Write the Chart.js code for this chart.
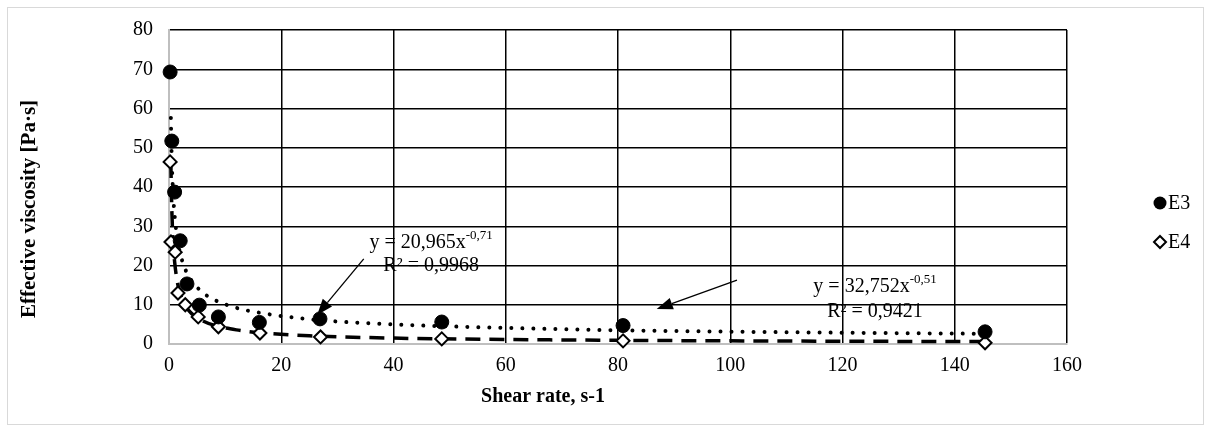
<!DOCTYPE html>
<html>
<head>
<meta charset="utf-8">
<script src="https://cdn.jsdelivr.net/npm/chart.js@4/dist/chart.umd.min.js"></script>
<style>
html, body { margin: 0; padding: 0; background: #fff; }
#wrap { width: 1211px; height: 432px; }
</style>
</head>
<body>
<div id="wrap"><canvas id="viscChart" width="1211" height="432"></canvas></div>
<script>
// measured points: shear rate (s-1) and effective viscosity (Pa·s)
var e3Shear = [0.2, 0.5, 1.0, 2.0, 3.2, 5.4, 8.8, 16.1, 26.9, 48.6, 80.9, 145.4];
var e3Visc = [69.3, 51.7, 38.7, 26.3, 15.3, 9.9, 6.9, 5.5, 6.4, 5.6, 4.7, 3.1];
var e4Shear = [0.2, 0.35, 1.1, 1.6, 2.9, 5.2, 8.8, 16.2, 27.0, 48.6, 80.9, 145.4];
var e4Visc = [46.4, 26.0, 23.4, 13.0, 10.0, 6.9, 4.4, 2.8, 1.8, 1.3, 0.8, 0.3];

// power trendlines (dotted = E3, dashed = E4)
var trendShear = [0.33, 0.5, 0.75, 1, 1.5, 2, 3, 4, 6, 8, 12, 16, 25, 40, 60, 80, 110, 145.5];
var e3TrendVisc = [57.6, 46.6, 37.9, 32.8, 26.6, 23.0, 18.7, 16.2, 13.1, 11.3, 9.2, 8.0, 6.3, 5.0, 4.1, 3.5, 3.0, 2.6];
var e4TrendVisc = [46.1, 34.3, 25.7, 21.0, 15.7, 12.8, 9.6, 7.8, 5.9, 4.8, 3.6, 2.9, 2.1, 1.5, 1.15, 0.94, 0.75, 0.61];

var xTicks = [0, 20, 40, 60, 80, 100, 120, 140, 160];
var yTicks = [0, 10, 20, 30, 40, 50, 60, 70, 80];
var seriesNames = ['E3', 'E4'];

// trendline labels and arrows (in data units)
var fitNotes = [
    { eq: 'y = 20,965x', pow: '-0,71', r2: 'R\u00b2 = 0,9968', x: 46.7, y1: 25.7, y2: 19.9,
      from: [34.7, 21.7], to: [26.4, 7.4] },
    { eq: 'y = 32,752x', pow: '-0,51', r2: 'R\u00b2 = 0,9421', x: 125.8, y1: 14.5, y2: 8.2,
      from: [101.2, 16.3], to: [86.9, 8.9] }
];

var serif = '"Liberation Serif", "Times New Roman", serif';

function toPoints(xs, ys) {
    var pts = [];
    for (var i = 0; i < xs.length; i++) {
        pts.push({ x: xs[i], y: ys[i] });
    }
    return pts;
}

function gridColor(ctx) {
    return ctx.tick && ctx.tick.value === 0 ? '#bfbfbf' : '#000000';
}

function drawArrow(c, x1, y1, x2, y2) {
    var ang = Math.atan2(y2 - y1, x2 - x1);
    var len = 16, half = 6;
    var bx = x2 - Math.cos(ang) * len, by = y2 - Math.sin(ang) * len;
    c.strokeStyle = '#000';
    c.lineWidth = 1.3;
    c.beginPath();
    c.moveTo(x1, y1);
    c.lineTo(bx, by);
    c.stroke();
    c.fillStyle = '#000';
    c.beginPath();
    c.moveTo(x2, y2);
    c.lineTo(bx + Math.sin(ang) * half, by - Math.cos(ang) * half);
    c.lineTo(bx - Math.sin(ang) * half, by + Math.cos(ang) * half);
    c.closePath();
    c.fill();
}

var extras = {
    id: 'extras',
    afterDraw: function (chart) {
        var c = chart.ctx;
        var xs = chart.scales.x, ys = chart.scales.y;
        var area = chart.chartArea;
        c.save();

        // outer frame
        c.strokeStyle = '#d9d9d9';
        c.lineWidth = 1;
        c.strokeRect(7.5, 7.5, chart.width - 15, chart.height - 15);

        // axis titles
        c.fillStyle = '#000';
        c.font = 'bold 20px ' + serif;
        c.textAlign = 'center';
        c.textBaseline = 'middle';
        c.fillText('Shear rate, s-1', 543, 397);
        c.save();
        c.translate(30, 209);
        c.rotate(-Math.PI / 2);
        c.font = 'bold 21px ' + serif;
        c.fillText('Effective viscosity [Pa\u00b7s]', 0, 0);
        c.restore();

        // trendline equations
        fitNotes.forEach(function (n) {
            var cx = xs.getPixelForValue(n.x);
            var y1 = ys.getPixelForValue(n.y1);
            var y2 = ys.getPixelForValue(n.y2);
            c.font = '20px ' + serif;
            var w1 = c.measureText(n.eq).width;
            c.font = '13px ' + serif;
            var w2 = c.measureText(n.pow).width;
            var left = cx - (w1 + w2) / 2;
            c.textAlign = 'left';
            c.textBaseline = 'middle';
            c.font = '20px ' + serif;
            c.fillText(n.eq, left, y1);
            c.font = '13px ' + serif;
            c.fillText(n.pow, left + w1, y1 - 8);
            c.font = '20px ' + serif;
            c.textAlign = 'center';
            c.fillText(n.r2, cx, y2);
            drawArrow(c, xs.getPixelForValue(n.from[0]), ys.getPixelForValue(n.from[1]),
                xs.getPixelForValue(n.to[0]), ys.getPixelForValue(n.to[1]));
        });

        // legend
        var lx = area.right + 93;
        var ly = [203, 242];
        c.font = '20px ' + serif;
        c.textAlign = 'left';
        c.textBaseline = 'middle';
        c.fillStyle = '#000';
        c.beginPath();
        c.arc(lx, ly[0], 6.5, 0, Math.PI * 2);
        c.fill();
        c.fillText(seriesNames[0], lx + 8, ly[0] + 1);
        c.beginPath();
        c.moveTo(lx, ly[1] - 6);
        c.lineTo(lx + 6, ly[1]);
        c.lineTo(lx, ly[1] + 6);
        c.lineTo(lx - 6, ly[1]);
        c.closePath();
        c.fillStyle = '#fff';
        c.fill();
        c.lineWidth = 2;
        c.strokeStyle = '#000';
        c.stroke();
        c.fillStyle = '#000';
        c.fillText(seriesNames[1], lx + 8, ly[1] + 1);

        c.restore();
    }
};

var ctx = document.getElementById('viscChart');
var myChart = new Chart(ctx, {
    type: 'scatter',
    data: {
        datasets: [{
            label: seriesNames[0],
            data: toPoints(e3Shear, e3Visc),
            pointStyle: 'circle',
            pointRadius: 7,
            backgroundColor: '#000',
            borderColor: '#000',
            borderWidth: 1,
            clip: false
        }, {
            label: seriesNames[1],
            data: toPoints(e4Shear, e4Visc),
            pointStyle: 'rectRot',
            pointRadius: 6.5,
            backgroundColor: '#fff',
            borderColor: '#000',
            borderWidth: 2,
            clip: false
        }, {
            label: 'E3 trend',
            data: toPoints(trendShear, e3TrendVisc),
            showLine: true,
            pointRadius: 0,
            borderColor: '#000',
            borderWidth: 4,
            borderDash: [0.01, 11],
            borderCapStyle: 'round',
            cubicInterpolationMode: 'monotone',
            clip: false
        }, {
            label: 'E4 trend',
            data: toPoints(trendShear, e4TrendVisc),
            showLine: true,
            pointRadius: 0,
            borderColor: '#000',
            borderWidth: 3.5,
            borderDash: [15, 9],
            cubicInterpolationMode: 'monotone',
            clip: false
        }]
    },
    options: {
        responsive: false,
        animation: false,
        layout: { padding: { left: 0, top: 30, right: 144, bottom: 0 } },
        plugins: {
            legend: { display: false },
            tooltip: { enabled: false }
        },
        scales: {
            x: {
                type: 'linear',
                min: 0,
                max: 160,
                afterBuildTicks: function (s) { s.ticks = xTicks.map(function (v) { return { value: v }; }); },
                afterFit: function (s) { s.height = 88; },
                grid: { color: gridColor, lineWidth: 1.5, drawTicks: false },
                border: { display: true, color: '#bfbfbf', width: 2 },
                ticks: { color: '#000', padding: 10, maxRotation: 0, font: { family: serif, size: 20 } }
            },
            y: {
                type: 'linear',
                min: 0,
                max: 80,
                afterBuildTicks: function (s) { s.ticks = yTicks.map(function (v) { return { value: v }; }); },
                afterFit: function (s) { s.width = 169; },
                grid: { color: gridColor, lineWidth: 1.5, drawTicks: false },
                border: { display: true, color: '#bfbfbf', width: 2 },
                ticks: { color: '#000', padding: 16, font: { family: serif, size: 20 } }
            }
        }
    },
    plugins: [extras]
});
</script>
</body>
</html>
